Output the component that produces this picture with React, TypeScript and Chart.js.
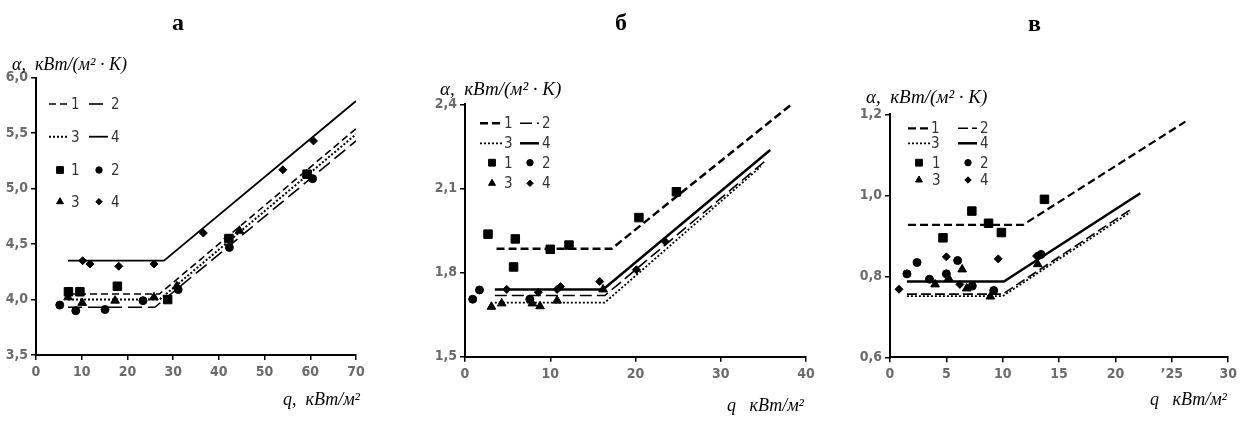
import React, { useEffect, useRef } from "react";
import { Chart, registerables } from "chart.js";
import { drawPoint } from "chart.js/helpers";

Chart.register(...registerables);

// ---------- Panel а ----------
const aXTicks = [0, 10, 20, 30, 40, 50, 60, 70];
const aXLabels = ["0", "10", "20", "30", "40", "50", "60", "70"];
const aYTicks = [3.5, 4.0, 4.5, 5.0, 5.5, 6.0];
const aYLabels = ["3,5", "4,0", "4,5", "5,0", "5,5", "6,0"];
const aL1q = [7, 27, 70];
const aL1a = [4.05, 4.05, 5.54];
const aL2q = [7, 26, 70];
const aL2a = [3.93, 3.93, 5.43];
const aL3q = [7, 27, 70];
const aL3a = [4.0, 4.0, 5.49];
const aL4q = [7, 28, 70];
const aL4a = [4.35, 4.35, 5.79];
const aSqQ = [7.1, 9.6, 17.8, 28.8, 42.2, 59.3];
const aSqA = [4.07, 4.07, 4.12, 4.0, 4.55, 5.13];
const aCiQ = [5.2, 8.7, 15.1, 23.4, 31.1, 42.3, 60.5];
const aCiA = [3.95, 3.9, 3.91, 3.99, 4.09, 4.47, 5.09];
const aTrQ = [7.0, 10.1, 17.3, 25.8, 30.8, 44.5, 59.2];
const aTrA = [4.02, 3.97, 3.99, 4.02, 4.12, 4.62, 5.13];
const aDiQ = [10.2, 11.8, 18.1, 25.8, 36.6, 42.0, 54.0, 60.7];
const aDiA = [4.35, 4.32, 4.3, 4.32, 4.6, 4.55, 5.17, 5.43];

// ---------- Panel б ----------
const bXTicks = [0, 10, 20, 30, 40];
const bXLabels = ["0", "10", "20", "30", "40"];
const bYTicks = [1.5, 1.8, 2.1, 2.4];
const bYLabels = ["1,5", "1,8", "2,1", "2,4"];
const bL1q = [3.7, 17.2, 38.3];
const bL1a = [1.885, 1.885, 2.4];
const bL2q = [3.5, 16.4, 35.3];
const bL2a = [1.718, 1.718, 2.2];
const bL3q = [3.5, 16.4, 34.7];
const bL3a = [1.693, 1.693, 2.178];
const bL4q = [3.5, 16.2, 35.8];
const bL4a = [1.74, 1.74, 2.237];
const bSqQ = [2.7, 5.9, 5.7, 10.0, 12.2, 20.4, 24.8];
const bSqA = [1.937, 1.92, 1.82, 1.883, 1.898, 1.996, 2.088];
const bCiQ = [0.9, 1.7, 7.6, 10.0, 24.9];
const bCiA = [1.705, 1.738, 1.705, 1.883, 2.085];
const bTrQ = [3.1, 4.3, 7.9, 8.8, 10.8, 16.2];
const bTrA = [1.678, 1.69, 1.69, 1.68, 1.7, 1.74];
const bDiQ = [4.9, 8.6, 10.8, 11.2, 15.8, 20.1, 23.5];
const bDiA = [1.74, 1.73, 1.74, 1.75, 1.768, 1.81, 1.91];

// ---------- Panel в ----------
const cXTicks = [0, 5, 10, 15, 20, 25, 30];
const cXLabels = ["0", "5", "10", "15", "20", "’25", "30"];
const cYTicks = [0.6, 0.8, 1.0, 1.2];
const cYLabels = ["0,6", "0,8", "1,0", "1,2"];
const cL1q = [1.6, 11.8, 26.2];
const cL1a = [0.927, 0.927, 1.182];
const cL2q = [1.5, 10.0, 21.3];
const cL2a = [0.756, 0.756, 0.964];
const cL3q = [1.5, 10.0, 21.3];
const cL3a = [0.751, 0.751, 0.958];
const cL4q = [1.5, 10.1, 22.2];
const cL4a = [0.787, 0.787, 1.005];
const cSqQ = [4.7, 7.26, 8.74, 9.88, 13.7];
const cSqA = [0.895, 0.961, 0.931, 0.908, 0.99];
const cCiQ = [1.5, 2.4, 3.5, 5.0, 6.0, 7.3, 9.2, 13.4];
const cCiA = [0.806, 0.834, 0.793, 0.806, 0.839, 0.776, 0.765, 0.854];
const cTrQ = [4.0, 5.2, 6.4, 6.8, 8.9, 13.1];
const cTrA = [0.78, 0.795, 0.817, 0.77, 0.75, 0.83];
const cDiQ = [0.8, 5.0, 6.2, 9.6, 13.0];
const cDiA = [0.768, 0.848, 0.78, 0.843, 0.85];

const legendNames = ["1", "2", "3", "4"];

const TICK_FONT = "'Liberation Sans Narrow', 'DejaVu Sans Condensed', 'Liberation Sans', Arial, sans-serif";

type LineStyle = { dash: number[]; width: number };
type PointStyle = { style: string; radius: number };

interface PanelCfg {
  canvasLeft: number;
  canvasWidth: number;
  area: { left: number; right: number; top: number; bottom: number };
  xMin: number;
  xMax: number;
  xTicks: number[];
  xLabels: string[];
  yMin: number;
  yMax: number;
  yTicks: number[];
  yLabels: string[];
  lines: { q: number[]; a: number[] }[];
  lineStyles: LineStyle[];
  points: { q: number[]; a: number[] }[];
  pointStyles: PointStyle[];
  legend: {
    rows: number[];
    lineX: [number, number][];
    lineLabelX: number[];
    markX: number[];
    markLabelX: number[];
    font: number;
  };
}

const markerStyles: PointStyle[] = [
  { style: "rect", radius: 6 },
  { style: "circle", radius: 4 },
  { style: "triangle", radius: 5 },
  { style: "rectRot", radius: 4 },
];

const panels: PanelCfg[] = [
  {
    canvasLeft: 0,
    canvasWidth: 413,
    area: { left: 36, right: 356, top: 77.7, bottom: 355 },
    xMin: 0, xMax: 70, xTicks: aXTicks, xLabels: aXLabels,
    yMin: 3.5, yMax: 6.0, yTicks: aYTicks, yLabels: aYLabels,
    lines: [
      { q: aL1q, a: aL1a },
      { q: aL2q, a: aL2a },
      { q: aL3q, a: aL3a },
      { q: aL4q, a: aL4a },
    ],
    lineStyles: [
      { dash: [7, 4], width: 1.6 },
      { dash: [14, 6], width: 1.6 },
      { dash: [2, 2], width: 2 },
      { dash: [], width: 1.8 },
    ],
    points: [
      { q: aSqQ, a: aSqA },
      { q: aCiQ, a: aCiA },
      { q: aTrQ, a: aTrA },
      { q: aDiQ, a: aDiA },
    ],
    pointStyles: markerStyles,
    legend: {
      rows: [104, 136.7, 170, 201.7],
      lineX: [[49, 68], [89, 108]],
      lineLabelX: [71, 111],
      markX: [60, 99],
      markLabelX: [71, 111],
      font: 15,
    },
  },
  {
    canvasLeft: 413,
    canvasWidth: 414,
    area: { left: 465, right: 806, top: 104.3, bottom: 356.7 },
    xMin: 0, xMax: 40, xTicks: bXTicks, xLabels: bXLabels,
    yMin: 1.5, yMax: 2.4, yTicks: bYTicks, yLabels: bYLabels,
    lines: [
      { q: bL1q, a: bL1a },
      { q: bL2q, a: bL2a },
      { q: bL3q, a: bL3a },
      { q: bL4q, a: bL4a },
    ],
    lineStyles: [
      { dash: [8, 4], width: 2.5 },
      { dash: [12, 5], width: 1.6 },
      { dash: [2, 2], width: 1.8 },
      { dash: [], width: 2.5 },
    ],
    points: [
      { q: bSqQ, a: bSqA },
      { q: bCiQ, a: bCiA },
      { q: bTrQ, a: bTrA },
      { q: bDiQ, a: bDiA },
    ],
    pointStyles: markerStyles,
    legend: {
      rows: [123.3, 143.3, 162.7, 183.3],
      lineX: [[480, 503], [520, 539]],
      lineLabelX: [504, 542],
      markX: [492, 530],
      markLabelX: [504, 542],
      font: 15,
    },
  },
  {
    canvasLeft: 827,
    canvasWidth: 414,
    area: { left: 890, right: 1230, top: 114.3, bottom: 357.3 },
    xMin: 0, xMax: 30, xTicks: cXTicks, xLabels: cXLabels,
    yMin: 0.6, yMax: 1.2, yTicks: cYTicks, yLabels: cYLabels,
    lines: [
      { q: cL1q, a: cL1a },
      { q: cL2q, a: cL2a },
      { q: cL3q, a: cL3a },
      { q: cL4q, a: cL4a },
    ],
    lineStyles: [
      { dash: [8, 4], width: 2.2 },
      { dash: [10, 4], width: 1.6 },
      { dash: [2, 2], width: 1.8 },
      { dash: [], width: 2.5 },
    ],
    points: [
      { q: cSqQ, a: cSqA },
      { q: cCiQ, a: cCiA },
      { q: cTrQ, a: cTrA },
      { q: cDiQ, a: cDiA },
    ],
    pointStyles: markerStyles,
    legend: {
      rows: [128.3, 143.3, 162.7, 180],
      lineX: [[908, 930], [958, 977]],
      lineLabelX: [931, 980],
      markX: [919, 968],
      markLabelX: [932, 980],
      font: 15,
    },
  },
];

const legendPlugin = {
  id: "panelLegend",
  afterDraw(chart: any, _args: any, opts: any) {
    const cfg: PanelCfg = opts.cfg;
    if (!cfg) return;
    const ctx = chart.ctx;
    const off = cfg.canvasLeft;
    const L = cfg.legend;
    ctx.save();
    ctx.font = `${L.font}px ${TICK_FONT}`;
    ctx.textBaseline = "middle";
    ctx.textAlign = "left";
    for (let i = 0; i < 4; i++) {
      const row = Math.floor(i / 2);
      const col = i % 2;
      const y = L.rows[row];
      const st = cfg.lineStyles[i];
      ctx.strokeStyle = "#000";
      ctx.lineWidth = st.width;
      ctx.setLineDash(st.dash);
      ctx.beginPath();
      ctx.moveTo(L.lineX[col][0] - off, y);
      ctx.lineTo(L.lineX[col][1] - off, y);
      ctx.stroke();
      ctx.setLineDash([]);
      ctx.fillStyle = "#333";
      ctx.fillText(legendNames[i], L.lineLabelX[col] - off, y + 1);
    }
    for (let i = 0; i < 4; i++) {
      const row = 2 + Math.floor(i / 2);
      const col = i % 2;
      const y = L.rows[row];
      const ps = cfg.pointStyles[i];
      ctx.fillStyle = "#000";
      ctx.strokeStyle = "#000";
      ctx.lineWidth = 1;
      drawPoint(ctx, { pointStyle: ps.style as any, radius: ps.radius * 0.8, rotation: 0, borderWidth: 1 } as any, L.markX[col] - off, y);
      ctx.fillStyle = "#333";
      ctx.fillText(legendNames[i], L.markLabelX[col] - off, y + 1);
    }
    ctx.restore();
  },
};

const H = 424;

function Panel({ cfg }: { cfg: PanelCfg }) {
  const ref = useRef<HTMLCanvasElement>(null);
  useEffect(() => {
    if (!ref.current) return;
    const yW = 40;
    const xH = 30;
    const padLeft = cfg.area.left - cfg.canvasLeft - yW;
    const padRight = cfg.canvasLeft + cfg.canvasWidth - cfg.area.right;
    const padTop = cfg.area.top;
    const padBottom = H - cfg.area.bottom - xH;

    const datasets: any[] = [];
    cfg.lines.forEach((s, i) => {
      datasets.push({
        type: "line",
        data: s.q.map((q, k) => ({ x: q, y: s.a[k] })),
        borderColor: "#000",
        borderWidth: cfg.lineStyles[i].width,
        borderDash: cfg.lineStyles[i].dash,
        pointRadius: 0,
        fill: false,
        tension: 0,
        showLine: true,
        order: 2,
      });
    });
    cfg.points.forEach((s, i) => {
      datasets.push({
        type: "scatter",
        data: s.q.map((q, k) => ({ x: q, y: s.a[k] })),
        backgroundColor: "#000",
        borderColor: "#000",
        borderWidth: 1,
        pointStyle: cfg.pointStyles[i].style,
        pointRadius: cfg.pointStyles[i].radius,
        showLine: false,
        order: 1,
      });
    });

    const tickFont = { family: TICK_FONT, size: 14, weight: "bold" as const };

    const chart = new Chart(ref.current, {
      type: "scatter",
      data: { datasets },
      plugins: [legendPlugin],
      options: {
        animation: false,
        responsive: false,
        events: [],
        layout: { padding: { left: padLeft, right: padRight, top: padTop, bottom: padBottom } },
        plugins: {
          legend: { display: false },
          tooltip: { enabled: false },
          title: { display: false },
          panelLegend: { cfg },
        } as any,
        scales: {
          x: {
            type: "linear",
            min: cfg.xMin,
            max: cfg.xMax,
            afterBuildTicks: (s: any) => {
              s.ticks = cfg.xTicks.map((v) => ({ value: v }));
            },
            afterFit: (s: any) => {
              s.height = xH;
            },
            ticks: {
              color: "#6b6b6b",
              font: tickFont,
              padding: 4,
              maxRotation: 0,
              autoSkip: false,
              callback: (_v: any, i: number) => cfg.xLabels[i],
            },
            grid: { display: true, drawOnChartArea: false, drawTicks: true, tickLength: 5, color: "#000", lineWidth: 1.5 },
            border: { display: true, color: "#000", width: 2 },
          },
          y: {
            type: "linear",
            min: cfg.yMin,
            max: cfg.yMax,
            afterBuildTicks: (s: any) => {
              s.ticks = cfg.yTicks.map((v) => ({ value: v }));
            },
            afterFit: (s: any) => {
              s.width = yW;
            },
            ticks: {
              color: "#6b6b6b",
              font: tickFont,
              padding: 3,
              autoSkip: false,
              callback: (_v: any, i: number) => cfg.yLabels[i],
            },
            grid: { display: true, drawOnChartArea: false, drawTicks: true, tickLength: 5, color: "#000", lineWidth: 1.5 },
            border: { display: true, color: "#000", width: 2 },
          },
        },
      } as any,
    });
    return () => chart.destroy();
  }, [cfg]);
  return (
    <canvas
      ref={ref}
      width={cfg.canvasWidth}
      height={H}
      style={{ position: "absolute", left: cfg.canvasLeft, top: 0, width: cfg.canvasWidth, height: H }}
    />
  );
}

const serif = "'Liberation Serif', 'Times New Roman', serif";

const labelStyle = (left: number, top: number, size: number, italic: boolean, bold: boolean): React.CSSProperties => ({
  position: "absolute",
  left,
  top,
  fontFamily: serif,
  fontSize: size,
  lineHeight: `${size}px`,
  fontStyle: italic ? "italic" : "normal",
  fontWeight: bold ? "bold" : "normal",
  whiteSpace: "pre",
  color: "#000",
});

export default function App() {
  return (
    <div style={{ position: "absolute", left: 0, top: 0, width: 1241, height: 424, background: "#fff", overflow: "hidden" }}>
      {panels.map((p, i) => (
        <Panel key={i} cfg={p} />
      ))}
      <span style={labelStyle(172, 10, 24, false, true)}>а</span>
      <span style={labelStyle(615, 10, 24, false, true)}>б</span>
      <span style={labelStyle(1028, 11, 24, false, true)}>в</span>

      <span style={labelStyle(12, 55, 18, true, false)}>{"α,  кВт/(м² · К)"}</span>
      <span style={labelStyle(440, 79, 19, true, false)}>{"α,  кВт/(м² · К)"}</span>
      <span style={labelStyle(866, 87, 19, true, false)}>{"α,  кВт/(м² · К)"}</span>

      <span style={labelStyle(283, 390, 18, true, false)}>{"q,  кВт/м²"}</span>
      <span style={labelStyle(727, 396, 18, true, false)}>{"q   кВт/м²"}</span>
      <span style={labelStyle(1150, 390, 18, true, false)}>{"q   кВт/м²"}</span>
    </div>
  );
}
